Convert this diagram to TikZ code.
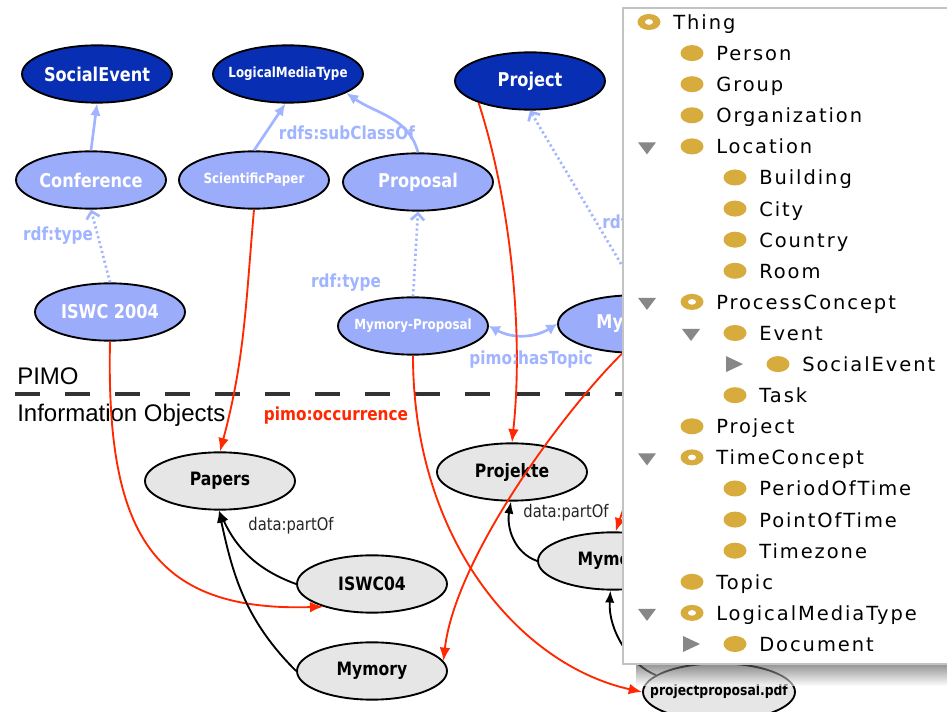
\documentclass[tikz,border=0pt]{standalone}
\usepackage{fontspec}
\setmainfont{DejaVu Sans}
\newfontfamily\nodefont{DejaVu Sans}[FakeStretch=0.85]
\newfontfamily\sepfont{Liberation Sans}
\newfontfamily\treefont{DejaVu Sans}[LetterSpace=10]
\usetikzlibrary{shapes.geometric,arrows.meta}
\definecolor{dkblue}{RGB}{8,46,180}
\definecolor{ltblue}{RGB}{155,172,250}
\definecolor{edgeblue}{RGB}{160,180,255}
\definecolor{objgray}{RGB}{230,230,230}
\definecolor{occred}{RGB}{255,40,0}
\definecolor{gold}{RGB}{215,172,60}
\definecolor{trigray}{RGB}{135,135,135}
\definecolor{pborder}{RGB}{195,195,195}
\newcommand\fz[1]{\fontsize{#1}{#1}\selectfont}
\newcommand\tx[1]{\makebox[0pt][c]{#1}}
\begin{document}
\begin{tikzpicture}[x=0.75pt,y=-0.75pt,
 ell/.style={ellipse, draw=black, line width=1.4pt, inner sep=0pt, minimum width=112.5pt, minimum height=43pt, font=\nodefont\bfseries\fz{14.25}},
 cls/.style={ell, fill=dkblue, text=white},
 inst/.style={ell, fill=ltblue, text=white},
 obj/.style={ell, fill=objgray, text=black, font=\nodefont\bfseries\fz{13.8}},
 sm/.style={font=\nodefont\bfseries\fz{10.5}},
 subcls/.style={draw=edgeblue, line width=2pt, -{Latex[length=9pt,width=8pt]}},
 typeof/.style={draw=edgeblue, line width=2pt, dash pattern=on 1.6pt off 2.2pt, -{Straight Barb[length=5pt,width=10pt]}},
 hastopic/.style={draw=edgeblue, line width=2pt, {Latex[length=8pt,width=9pt]}-{Latex[length=8pt,width=9pt]}},
 occ/.style={draw=occred, line width=1.4pt, -{Latex[length=10pt,width=8pt]}},
 part/.style={draw=black, line width=1.4pt, -{Latex[length=9pt,width=7pt]}},
 elab/.style={font=\nodefont\bfseries\fz{13.5}, text=edgeblue, inner sep=0pt},
 occlab/.style={font=\nodefont\bfseries\fz{13.5}, text=occred, inner sep=0pt},
 partlab/.style={font=\nodefont\fz{13}, text=black!85, inner sep=0pt},
 seplabel/.style={font=\sepfont\fz{18}, inner sep=0pt, anchor=base west},
 sep/.style={draw=black!80, line width=2.6pt, dash pattern=on 18.75pt off 18.75pt},
 treetext/.style={font=\treefont\fz{14.6}, text=black, inner sep=0pt, anchor=base west},
]
\useasboundingbox (0,0) rectangle (947,712);
\fill[white] (0,0) rectangle (947,712);

% separator
\coordinate (dl) at (15,394);
\coordinate (dr) at (947,394);
\draw[sep] (dl) -- (dr);
\node[seplabel] (pimo) at (17,385) {PIMO};
\node[seplabel] (io) at (17,422) {Information Objects};

% PIMO nodes
\node[cls] (se) at (97,74) {\tx{SocialEvent}};
\node[cls, sm] (lmt) at (288,74) {\tx{LogicalMediaType}};
\node[cls] (proj) at (530,81) {\tx{Project}};
\node[inst] (conf) at (91,180) {\tx{Conference}};
\node[inst, sm] (sp) at (254,180) {\tx{ScientificPaper}};
\node[inst] (prop) at (418,182) {\tx{Proposal}};
\node[inst] (iswc) at (110,312) {\tx{ISWC 2004}};
\node[inst, sm] (mp) at (413,326) {\tx{Mymory-Proposal}};
\node[inst] (mymb) at (633,324) {\tx{Mymory}};

% information objects
\node[obj] (papers) at (220,481) {\tx{Papers}};
\node[obj] (projekte) at (512,472) {\tx{Projekte}};
\node[obj] (iswc04) at (372,584) {\tx{ISWC04}};
\node[obj] (mymg) at (372,671) {\tx{Mymory}};
\node[obj] (mymg2) at (613,561) {\tx{Mymory}};
\node[obj, font=\nodefont\bfseries\fz{10.9}, minimum width=114pt] (pdf) at (719,692) {\tx{projectproposal.pdf}};

% schema edges
\draw[subcls] (conf.north) -- (se.south);
\draw[subcls] (sp.north) -- (lmt.-95);
\draw[subcls] (prop.north) to[out=105,in=-35] (lmt.-18);
\draw[typeof] (iswc.north) -- (conf.south);
\draw[typeof] (mp.north) -- (prop.south);
\draw[typeof] (mymb.78) -- (proj.south);
\draw[hastopic] (mp.east) to[bend right=30] (mymb.west);

% occurrence edges
\draw[occ] (sp.south) to[out=-95,in=75] (papers.north);
\draw[occ] (iswc.south) .. controls (106,530) and (150,612) .. (iswc04.205);
\draw[occ] (proj.-157) .. controls (510,200) and (524,330) .. (projekte.north);
\draw[occ] (mp.south) .. controls (413,540) and (520,665) .. (pdf.west);
\draw[occ] (mymb.-110) .. controls (560,415) and (455,560) .. (mymg.8);
\draw[occ] (mymb.-80) .. controls (650,440) and (630,490) .. (mymg2.85);

% partOf edges
\draw[part] (iswc04.west) to[out=160,in=-65] (papers.-92);
\draw[part] (mymg.west) to[out=135,in=-78] (papers.-92);
\draw[part] (mymg2.west) to[out=160,in=-100] (projekte.-92);
\draw[part] (pdf.165) .. controls (630,665) and (608,630) .. (mymg2.-95);

% edge labels
\node[elab] (l1) at (58,236) {rdf:type};
\node[elab] (l2) at (347,133) {rdfs:subClassOf};
\node[elab] (l3) at (346,283) {rdf:type};
\node[elab, anchor=west] (l4) at (602,224) {rdf:type};
\node[elab] (l5) at (531,360) {pimo:hasTopic};
\node[occlab] (l6) at (336,416) {pimo:occurrence};
\node[partlab] (l7) at (291,526) {data:partOf};
\node[partlab] (l8) at (566,513) {data:partOf};

% tree panel
\coordinate (pnw) at (623,8);
\coordinate (pse) at (950,664);
\shade[top color=black!70, bottom color=white, opacity=0.6] (636,664) rectangle (947,686);
\fill[white] (pnw) rectangle (pse);
\draw[pborder, line width=1.2pt] (950,8) -- (623,8) -- (623,664) -- (950,664);

\foreach \i/\lv/\t/\r in {0/0/Thing/1, 1/1/Person/0, 2/1/Group/0, 3/1/Organization/0, 4/1/Location/0, 5/2/Building/0, 6/2/City/0, 7/2/Country/0, 8/2/Room/0, 9/1/ProcessConcept/1, 10/2/Event/0, 11/3/SocialEvent/0, 12/2/Task/0, 13/1/Project/0, 14/1/TimeConcept/1, 15/2/PeriodOfTime/0, 16/2/PointOfTime/0, 17/2/Timezone/0, 18/1/Topic/0, 19/1/LogicalMediaType/1, 20/2/Document/0} {
  \fill[gold] (649+43*\lv, 22+31.1*\i) ellipse [x radius=11.5, y radius=8];
  \ifnum\r=1 \fill[white] (649+43*\lv, 22+31.1*\i) ellipse [x radius=4, y radius=2.8]; \fi
  \node[treetext] (t\i) at (673+43*\lv, 29.5+31.1*\i) {\t};
}
\foreach \i/\cx in {4/647, 9/647, 14/647, 19/647, 10/691}
  \fill[trigray] (\cx-9, 22+31.1*\i-4) -- (\cx+9, 22+31.1*\i-4) -- (\cx, 22+31.1*\i+8) -- cycle;
\foreach \i/\cx in {11/734, 20/691}
  \fill[trigray] (\cx-8, 22+31.1*\i-8) -- (\cx+9, 22+31.1*\i) -- (\cx-8, 22+31.1*\i+8) -- cycle;
\end{tikzpicture}
\end{document}
